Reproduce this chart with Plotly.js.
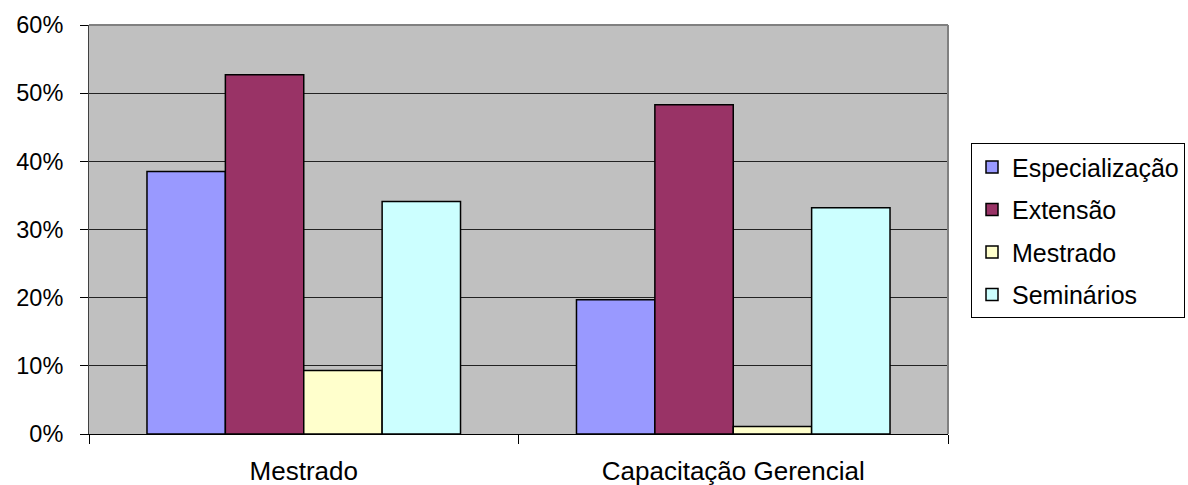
<!DOCTYPE html>
<html>
<head>
<meta charset="utf-8">
<script src="https://cdn.plot.ly/plotly-3.0.1.min.js"></script>
<style>html,body{margin:0;padding:0;background:#fff;}#chart{width:1188px;height:485px;}</style>
</head>
<body>
<div id="chart"></div>
<script>
var categories = ["Mestrado", "Capacitação Gerencial"];
var seriesNames = ["Especialização", "Extensão", "Mestrado", "Seminários"];
var especializacao = [0.385, 0.197];
var extensao = [0.527, 0.483];
var mestrado = [0.093, 0.011];
var seminarios = [0.341, 0.332];
var colors = ["#9999FF", "#993366", "#FFFFCC", "#CCFFFF"];

var seriesValues = [especializacao, extensao, mestrado, seminarios];
var FONT = "Liberation Sans, Arial, sans-serif";

var traces = seriesValues.map(function (vals, i) {
  return {
    type: "bar",
    name: seriesNames[i],
    x: categories,
    y: vals,
    legendgroup: "g" + i,
    marker: { color: colors[i], line: { color: "#000", width: 1.5 } },
    hoverinfo: "x+y+name"
  };
});

var layout = {
  width: 1188,
  height: 485,
  margin: { l: 89, r: 240, t: 25, b: 51, autoexpand: false },
  paper_bgcolor: "#ffffff",
  plot_bgcolor: "#C0C0C0",
  barmode: "group",
  bargap: 0.27,
  bargroupgap: 0,
  font: { family: FONT, color: "#000" },
  xaxis: {
    type: "category",
    tickson: "boundaries",
    ticks: "outside",
    ticklen: 9,
    tickcolor: "#000",
    tickwidth: 1,
    showline: true,
    linecolor: "#000",
    linewidth: 1,
    showgrid: false,
    automargin: false,
    tickfont: { family: FONT, size: 26, color: "#000" },
    ticklabelstandoff: 14
  },
  yaxis: {
    range: [0, 0.6],
    dtick: 0.1,
    tickformat: ".0%",
    ticks: "outside",
    ticklen: 8,
    tickcolor: "#000",
    showline: true,
    linecolor: "#404040",
    linewidth: 1,
    showgrid: true,
    gridcolor: "#222",
    gridwidth: 1,
    zeroline: false,
    automargin: false,
    tickfont: { family: FONT, size: 23.5, color: "#000" },
    ticklabelstandoff: 12
  },
  legend: {
    x: 1.0,
    xanchor: "left",
    y: 0.711,
    yanchor: "top",
    bgcolor: "#fff",
    bordercolor: "#000",
    borderwidth: 1,
    font: { family: FONT, size: 25, color: "#000" },
    tracegroupgap: 7,
    traceorder: "grouped",
    itemwidth: 30
  },
  shapes: [
    { type: "line", xref: "paper", yref: "paper", x0: 0, x1: 1, y0: 1, y1: 1, line: { color: "#808080", width: 2 } },
    { type: "line", xref: "paper", yref: "paper", x0: 1, x1: 1, y0: 0, y1: 1, line: { color: "#808080", width: 2 } }
  ],
  showlegend: true
};
layout.legend.x = (971 - 89) / (1188 - 89 - 240);

Plotly.newPlot("chart", traces, layout, { displayModeBar: false, staticPlot: true });
</script>
</body>
</html>
